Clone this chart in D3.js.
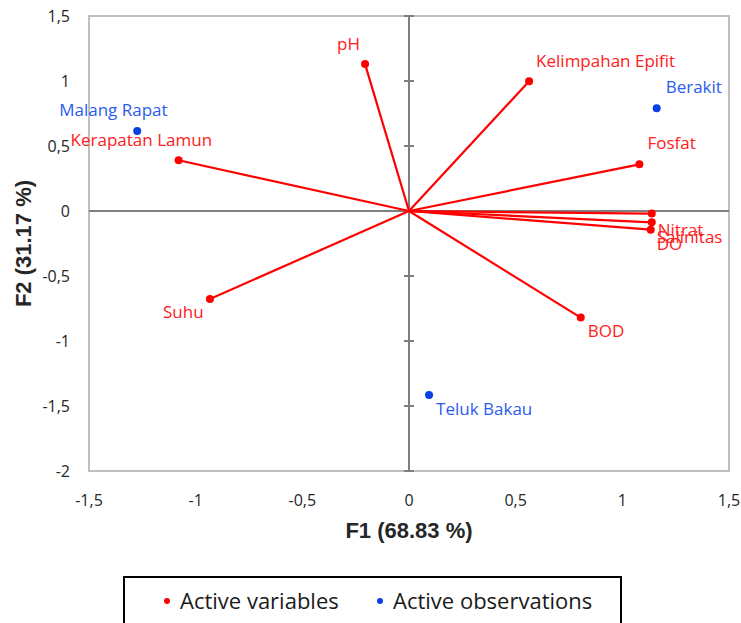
<!DOCTYPE html>
<html>
<head>
<meta charset="utf-8">
<script src="https://cdn.jsdelivr.net/npm/d3@7"></script>
<style>
  body { margin: 0; background: #fff; }
  svg { display: block; }
  .lbl { font-family: "Open Sans", sans-serif; font-size: 17px; }
  .tick-lbl { font-family: "Open Sans", sans-serif; font-size: 16px; fill: #262626; }
  .ax-title { font-family: "Liberation Sans", Arial, sans-serif; font-size: 22px; font-weight: bold; fill: #262626; }
</style>
</head>
<body>
<svg width="741" height="623"></svg>
<script>
'use strict';

// active variables (F1, F2)
var varNames = ["pH", "Kelimpahan Epifit", "Fosfat", "Nitrat", "Salinitas", "DO", "BOD", "Suhu", "Kerapatan Lamun"];
var varF1 = [-0.206, 0.563, 1.08, 1.138, 1.138, 1.133, 0.805, -0.933, -1.08];
var varF2 = [1.13, 0.998, 0.359, -0.02, -0.087, -0.144, -0.82, -0.677, 0.39];

// active observations
var obsNames = ["Malang Rapat", "Berakit", "Teluk Bakau"];
var obsF1 = [-1.274, 1.161, 0.094];
var obsF2 = [0.615, 0.79, -1.415];

var xTicks = [-1.5, -1, -0.5, 0, 0.5, 1, 1.5];
var yTicks = [-2, -1.5, -1, -0.5, 0, 0.5, 1, 1.5];

var xTitle = "F1 (68.83 %)";
var yTitle = "F2 (31.17 %)";
var legendItems = ["Active variables", "Active observations"];

// label placement (pixel offsets from the point)
var varLabelOffset = [[-28, -14], [7, -14], [8, -15], [6, 22], [5, 21], [6, 20], [7, 19], [-47, 19], [-108, -14]];
var obsLabelOffset = [[-78, -15], [9, -15], [7, 20]];

var red = "#ff0000", blue = "#0a3fe6";

var svg = d3.select("svg"),
    margin = {top: 16, right: 12, bottom: 152, left: 89},
    width = 741 - margin.left - margin.right,
    height = 623 - margin.top - margin.bottom;

var x = d3.scaleLinear().domain([-1.5, 1.5]).range([0, width]);
var y = d3.scaleLinear().domain([-2, 1.5]).range([height, 0]);

var fmt = function(d) { return String(d).replace(".", ","); };

var g = svg.append("g")
    .attr("transform", "translate(" + margin.left + "," + margin.top + ")");

// plot frame
g.append("rect")
    .attr("x", 0).attr("y", 0)
    .attr("width", width).attr("height", height)
    .attr("fill", "none")
    .attr("stroke", "#bfbfbf")
    .attr("stroke-width", 2);

// zero axes
g.append("line")
    .attr("x1", 0).attr("x2", width)
    .attr("y1", y(0)).attr("y2", y(0))
    .attr("stroke", "#7f7f7f").attr("stroke-width", 2);

g.append("line")
    .attr("x1", x(0)).attr("x2", x(0))
    .attr("y1", 0).attr("y2", height)
    .attr("stroke", "#7f7f7f").attr("stroke-width", 2);

// tick marks crossing the vertical axis
g.selectAll(".ytick-mark")
  .data(yTicks)
  .enter().append("line")
    .attr("x1", x(0) - 5).attr("x2", x(0) + 5)
    .attr("y1", function(d) { return y(d); })
    .attr("y2", function(d) { return y(d); })
    .attr("stroke", "#7f7f7f").attr("stroke-width", 2);

// tick labels
g.selectAll(".ytl")
  .data(yTicks)
  .enter().append("text")
    .attr("class", "tick-lbl")
    .attr("x", -19)
    .attr("y", function(d) { return y(d); })
    .attr("dy", "0.35em")
    .attr("text-anchor", "end")
    .text(fmt);

g.selectAll(".xtl")
  .data(xTicks)
  .enter().append("text")
    .attr("class", "tick-lbl")
    .attr("x", function(d) { return x(d); })
    .attr("y", height + 35)
    .attr("text-anchor", "middle")
    .text(fmt);

// axis titles
g.append("text")
    .attr("class", "ax-title")
    .attr("x", width / 2)
    .attr("y", height + 67)
    .attr("text-anchor", "middle")
    .text(xTitle);

g.append("text")
    .attr("class", "ax-title")
    .attr("transform", "translate(" + (-58) + "," + (height / 2) + ") rotate(-90)")
    .attr("text-anchor", "middle")
    .text(yTitle);

// variable vectors
var vars = varNames.map(function(n, i) {
  return {name: n, f1: varF1[i], f2: varF2[i], off: varLabelOffset[i]};
});
var obs = obsNames.map(function(n, i) {
  return {name: n, f1: obsF1[i], f2: obsF2[i], off: obsLabelOffset[i]};
});

g.selectAll(".vec")
  .data(vars)
  .enter().append("line")
    .attr("x1", x(0)).attr("y1", y(0))
    .attr("x2", function(d) { return x(d.f1); })
    .attr("y2", function(d) { return y(d.f2); })
    .attr("stroke", red).attr("stroke-width", 2.2);

g.selectAll(".vdot")
  .data(vars)
  .enter().append("circle")
    .attr("cx", function(d) { return x(d.f1); })
    .attr("cy", function(d) { return y(d.f2); })
    .attr("r", 4)
    .attr("fill", red);

g.selectAll(".vlbl")
  .data(vars)
  .enter().append("text")
    .attr("class", "lbl")
    .attr("x", function(d) { return x(d.f1) + d.off[0]; })
    .attr("y", function(d) { return y(d.f2) + d.off[1]; })
    .attr("fill", "#ff2020")
    .text(function(d) { return d.name; });

g.selectAll(".odot")
  .data(obs)
  .enter().append("circle")
    .attr("cx", function(d) { return x(d.f1); })
    .attr("cy", function(d) { return y(d.f2); })
    .attr("r", 4)
    .attr("fill", blue);

g.selectAll(".olbl")
  .data(obs)
  .enter().append("text")
    .attr("class", "lbl")
    .attr("x", function(d) { return x(d.f1) + d.off[0]; })
    .attr("y", function(d) { return y(d.f2) + d.off[1]; })
    .attr("fill", "#2a5cf0")
    .text(function(d) { return d.name; });

// legend
var lg = svg.append("g");
lg.append("rect")
    .attr("x", 124).attr("y", 577)
    .attr("width", 497).attr("height", 70)
    .attr("fill", "#fff")
    .attr("stroke", "#000")
    .attr("stroke-width", 2);

var legX = [167, 380];
lg.selectAll(".ld")
  .data(legendItems)
  .enter().append("circle")
    .attr("cx", function(d, i) { return legX[i]; })
    .attr("cy", 601)
    .attr("r", 3)
    .attr("fill", function(d, i) { return i === 0 ? red : blue; });

lg.selectAll(".lt")
  .data(legendItems)
  .enter().append("text")
    .attr("x", function(d, i) { return legX[i] + 13; })
    .attr("y", 609)
    .style("font-family", "'Open Sans', sans-serif")
    .style("font-size", "22px")
    .attr("fill", "#1a1a1a")
    .text(function(d) { return d; });
</script>
</body>
</html>
